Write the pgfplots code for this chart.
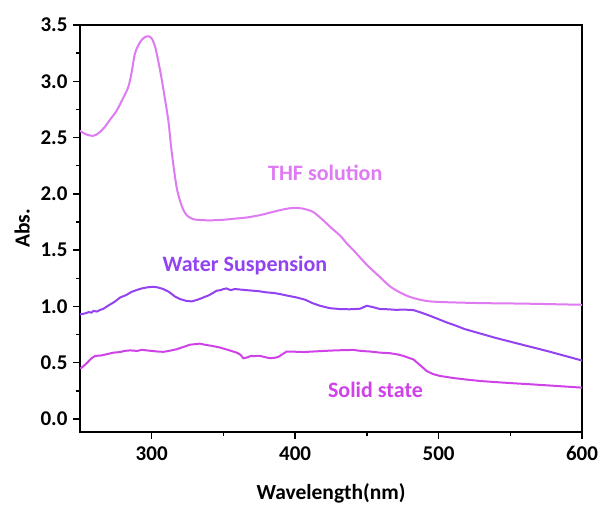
\documentclass[border=0pt]{standalone}
\usepackage{fontspec}
\setmainfont{Carlito}
\usepackage{pgfplots}
\pgfplotsset{compat=1.18}
\definecolor{thf}{RGB}{222,122,242}
\definecolor{wat}{RGB}{146,66,240}
\definecolor{sol}{RGB}{206,66,232}
\begin{document}
\begin{tikzpicture}
\begin{axis}[
  name=ax,
  width=502pt, height=407pt, scale only axis,
  xmin=250, xmax=600, ymin=-0.115, ymax=3.5,
  xtick={300,400,500,600}, ytick={0,0.5,...,3.5},
  minor x tick num=1, minor y tick num=1,
  tick pos=left, tick align=outside,
  major tick length=7pt, minor tick length=4pt,
  every tick/.style={black, line width=1.4pt},
  axis line style={line width=1.6pt},
  xticklabel={\bfseries\pgfmathprintnumber[assume math mode=true,fixed,precision=0]{\tick}},
  yticklabel={\bfseries\pgfmathprintnumber[assume math mode=true,fixed,fixed zerofill,precision=1]{\tick}},
  xticklabel style={font=\fontsize{21}{24}\selectfont, yshift=-4pt},
  yticklabel style={font=\fontsize{21}{24}\selectfont, xshift=-2pt},
  xlabel={\bfseries Wavelength(nm)}, ylabel={\bfseries Abs.},
  label style={font=\fontsize{21.5}{24}\selectfont},
  xlabel style={yshift=-16pt},
  ylabel style={yshift=4pt},
  clip=true,
]
\addplot[thf, line width=2pt, smooth] coordinates {
(250,2.56) (254,2.53) (259,2.515) (263,2.54) (267,2.59) (271,2.66) (275.6,2.74) (280,2.85) (283.7,2.95) (286,3.08) (288.4,3.25) (292,3.35) (295,3.39) (297.6,3.40) (300,3.38) (302.5,3.30) (305.8,3.10) (308.5,2.90) (311.6,2.65) (313.5,2.42) (315.6,2.21) (317.5,2.05) (319.7,1.94) (322,1.86) (324.4,1.81) (328,1.78) (331.4,1.77) (340,1.765) (350,1.77) (358,1.78) (366,1.79) (375,1.81) (383,1.835) (391,1.86) (398.7,1.876) (405,1.87) (412.5,1.84) (420,1.76) (425,1.70) (431.3,1.63) (436,1.56) (440.6,1.50) (450,1.37) (459.2,1.26) (466,1.18) (473,1.125) (480,1.085) (487,1.06) (494,1.045) (505,1.038) (529,1.03) (560,1.025) (600,1.015)
};
\addplot[wat, line width=2pt] coordinates {
(250,0.93) (251.2,0.932) (254,0.94) (256,0.95) (258,0.945) (259.3,0.96) (262,0.955) (264,0.97) (266,0.977) (270,1.01) (274,1.04) (278,1.08) (282,1.10) (286,1.13) (289.5,1.146) (293,1.16) (297,1.17) (301,1.175) (304,1.17) (308,1.155) (312,1.13) (316,1.09) (319.7,1.066) (324,1.05) (327.8,1.045) (332,1.06) (336,1.08) (340,1.10) (345.3,1.14) (348,1.145) (350,1.155) (352.2,1.16) (355,1.145) (358,1.155) (362,1.15) (366,1.145) (370.8,1.14) (375,1.135) (380,1.125) (385,1.12) (389.5,1.11) (395,1.095) (401,1.08) (407,1.06) (412,1.03) (417.4,1.006) (424,0.985) (431.3,0.977) (438,0.975) (445.3,0.98) (449.9,1.006) (454,0.995) (459.2,0.977) (465,0.975) (470,0.97) (476,0.972) (482.4,0.968) (488,0.945) (494,0.917) (500,0.887) (505.7,0.858) (512,0.83) (518,0.80) (529,0.76) (540,0.72) (552.3,0.68) (563,0.645) (575.5,0.605) (587,0.565) (600,0.52)
};
\addplot[sol, line width=2pt] coordinates {
(250,0.45) (251.2,0.457) (255,0.50) (258,0.54) (260.6,0.561) (265,0.565) (270,0.58) (273.3,0.59) (278,0.595) (281,0.605) (285,0.61) (290,0.605) (293,0.615) (296.5,0.61) (300,0.605) (304,0.60) (308,0.597) (312,0.605) (317.4,0.62) (322,0.64) (326.6,0.66) (330,0.665) (333.7,0.67) (337,0.66) (342,0.65) (347.6,0.635) (353,0.615) (359.3,0.59) (362,0.57) (363.9,0.54) (366,0.545) (368.6,0.558) (372,0.56) (375.5,0.561) (379,0.55) (382.5,0.54) (386,0.545) (388.3,0.552) (391,0.575) (394.2,0.60) (400,0.598) (406,0.595) (412.7,0.60) (420,0.605) (428,0.61) (434,0.612) (440.6,0.614) (446,0.605) (452,0.60) (459.2,0.59) (466,0.585) (471,0.575) (475.5,0.561) (479,0.545) (482.4,0.53) (487,0.48) (491.7,0.427) (496,0.40) (501,0.383) (510,0.365) (520,0.35) (529,0.338) (540,0.328) (552,0.318) (563.8,0.309) (575,0.30) (587,0.29) (600,0.279)
};
\node[thf, font=\fontsize{22}{24}\selectfont\bfseries] at (axis cs:421,2.19) {THF solution};
\node[wat, font=\fontsize{22}{24}\selectfont\bfseries] at (axis cs:365,1.36) {Water Suspension};
\node[sol, font=\fontsize{22}{24}\selectfont\bfseries] at (axis cs:456,0.255) {Solid state};
\end{axis}
\path ([xshift=-80pt,yshift=-74pt]ax.south west) rectangle ([xshift=20pt,yshift=25pt]ax.north east);
\end{tikzpicture}
\end{document}
